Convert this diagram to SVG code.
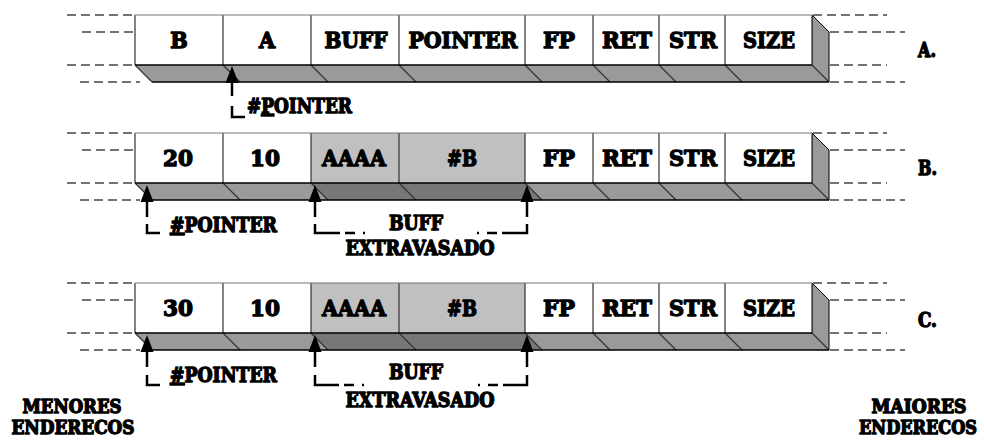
<svg xmlns="http://www.w3.org/2000/svg" xmlns:xlink="http://www.w3.org/1999/xlink" width="984" height="441" viewBox="0 0 984 441">
<style>
.t{font-family:"DejaVu Serif","Liberation Serif",serif;font-weight:bold;font-stretch:condensed;fill:#000;stroke:#000;stroke-width:1.3;stroke-linejoin:round;text-anchor:middle}
.c{font-size:23px}
.s{font-size:20px}
.e{font-size:19px}
.w{fill:#fff}
.g{fill:#c0c0c0}
.sh{fill:#9a9a9a}
.dk{fill:#777}
.v{stroke:#333;stroke-width:1.2;fill:none}
.top{stroke:#777;stroke-width:1.2}
.bot{stroke:#000;stroke-width:1.6}
.dl{stroke:#444;stroke-width:1.4;stroke-dasharray:9 5;fill:none}
.cn{stroke:#000;stroke-width:2.5;fill:none}
</style>
<defs>
<path id="ah" d="M0,0 L6.5,17 L-6.5,17 Z" fill="#000"/>
<g id="guides">
<path class="dl" d="M67,0 H135 M82,17 H135 M67,50 H135 M80,67 H140 M813,0 H887 M830,17 H905 M830,50 H887 M830,67 H905"/>
</g>
</defs>

<!-- Row A -->
<g id="rowA" transform="translate(0,15)">
<use xlink:href="#guides"/>
<polygon class="sh" points="135,50 812,50 829,67 152,67"/>
<polygon class="sh" points="812,0 829,17 829,67 812,50" stroke="#000" stroke-width="1"/>
<g id="A-B"><rect class="w" x="135" y="0" width="88" height="50"/><text class="t c" x="179" y="33">B</text></g>
<g id="A-A"><rect class="w" x="223" y="0" width="88" height="50"/><text class="t c" x="267" y="33">A</text></g>
<g id="A-BUFF"><rect class="w" x="311" y="0" width="88" height="50"/><text class="t c" x="356" y="33" textLength="63" lengthAdjust="spacingAndGlyphs">BUFF</text></g>
<g id="A-POINTER"><rect class="w" x="399" y="0" width="126" height="50"/><text class="t c" x="463" y="33" textLength="109" lengthAdjust="spacingAndGlyphs">POINTER</text></g>
<g id="A-FP"><rect class="w" x="525" y="0" width="68" height="50"/><text class="t c" x="559" y="33" textLength="32" lengthAdjust="spacingAndGlyphs">FP</text></g>
<g id="A-RET"><rect class="w" x="593" y="0" width="66" height="50"/><text class="t c" x="627" y="33" textLength="50" lengthAdjust="spacingAndGlyphs">RET</text></g>
<g id="A-STR"><rect class="w" x="659" y="0" width="66" height="50"/><text class="t c" x="693" y="33" textLength="48" lengthAdjust="spacingAndGlyphs">STR</text></g>
<g id="A-SIZE"><rect class="w" x="725" y="0" width="87" height="50"/><text class="t c" x="769" y="33" textLength="52" lengthAdjust="spacingAndGlyphs">SIZE</text></g>
<path class="v" d="M135,0 V50 M223,0 V50 M311,0 V50 M399,0 V50 M525,0 V50 M593,0 V50 M659,0 V50 M725,0 V50 M812,0 V50"/>
<path class="v" d="M135,50 L152,67 M223,50 L240,67 M311,50 L328,67 M399,50 L416,67 M525,50 L542,67 M593,50 L610,67 M659,50 L676,67 M725,50 L742,67 M812,50 L829,67"/>
<path class="top" d="M135,0 H812"/>
<path class="bot" d="M135,50 H812 M152,67 H829"/>
<text class="t s" x="918" y="42" style="text-anchor:start" textLength="18" lengthAdjust="spacingAndGlyphs">A.</text>
</g>

<!-- Row B -->
<g id="rowB" transform="translate(0,133)">
<use xlink:href="#guides"/>
<polygon class="sh" points="135,50 812,50 829,67 152,67"/>
<polygon class="dk" points="311,50 525,50 542,67 328,67"/>
<polygon class="sh" points="812,0 829,17 829,67 812,50" stroke="#000" stroke-width="1"/>
<g id="B-20"><rect class="w" x="135" y="0" width="88" height="50"/><text class="t c" x="178" y="33" textLength="30" lengthAdjust="spacingAndGlyphs">20</text></g>
<g id="B-10"><rect class="w" x="223" y="0" width="88" height="50"/><text class="t c" x="265" y="33" textLength="30" lengthAdjust="spacingAndGlyphs">10</text></g>
<g id="B-AAAA"><rect class="g" x="311" y="0" width="88" height="50"/><text class="t c" x="354" y="33" textLength="64" lengthAdjust="spacingAndGlyphs">AAAA</text></g>
<g id="B-HB"><rect class="g" x="399" y="0" width="126" height="50"/><text class="t c" x="462" y="33" textLength="30" lengthAdjust="spacingAndGlyphs">#B</text></g>
<g id="B-FP"><rect class="w" x="525" y="0" width="68" height="50"/><text class="t c" x="559" y="33" textLength="32" lengthAdjust="spacingAndGlyphs">FP</text></g>
<g id="B-RET"><rect class="w" x="593" y="0" width="66" height="50"/><text class="t c" x="627" y="33" textLength="50" lengthAdjust="spacingAndGlyphs">RET</text></g>
<g id="B-STR"><rect class="w" x="659" y="0" width="66" height="50"/><text class="t c" x="693" y="33" textLength="48" lengthAdjust="spacingAndGlyphs">STR</text></g>
<g id="B-SIZE"><rect class="w" x="725" y="0" width="87" height="50"/><text class="t c" x="769" y="33" textLength="52" lengthAdjust="spacingAndGlyphs">SIZE</text></g>
<path class="v" d="M135,0 V50 M223,0 V50 M311,0 V50 M399,0 V50 M525,0 V50 M593,0 V50 M659,0 V50 M725,0 V50 M812,0 V50"/>
<path class="v" d="M135,50 L152,67 M223,50 L240,67 M311,50 L328,67 M399,50 L416,67 M525,50 L542,67 M593,50 L610,67 M659,50 L676,67 M725,50 L742,67 M812,50 L829,67"/>
<path class="top" d="M135,0 H812"/>
<path class="bot" d="M135,50 H812 M152,67 H829"/>
<text class="t s" x="918" y="42" style="text-anchor:start" textLength="19" lengthAdjust="spacingAndGlyphs">B.</text>
</g>

<!-- Row C -->
<g id="rowC" transform="translate(0,283)">
<use xlink:href="#guides"/>
<polygon class="sh" points="135,50 812,50 829,67 152,67"/>
<polygon class="dk" points="311,50 525,50 542,67 328,67"/>
<polygon class="sh" points="812,0 829,17 829,67 812,50" stroke="#000" stroke-width="1"/>
<g id="C-30"><rect class="w" x="135" y="0" width="88" height="50"/><text class="t c" x="178" y="33" textLength="30" lengthAdjust="spacingAndGlyphs">30</text></g>
<g id="C-10"><rect class="w" x="223" y="0" width="88" height="50"/><text class="t c" x="265" y="33" textLength="30" lengthAdjust="spacingAndGlyphs">10</text></g>
<g id="C-AAAA"><rect class="g" x="311" y="0" width="88" height="50"/><text class="t c" x="354" y="33" textLength="64" lengthAdjust="spacingAndGlyphs">AAAA</text></g>
<g id="C-HB"><rect class="g" x="399" y="0" width="126" height="50"/><text class="t c" x="462" y="33" textLength="30" lengthAdjust="spacingAndGlyphs">#B</text></g>
<g id="C-FP"><rect class="w" x="525" y="0" width="68" height="50"/><text class="t c" x="559" y="33" textLength="32" lengthAdjust="spacingAndGlyphs">FP</text></g>
<g id="C-RET"><rect class="w" x="593" y="0" width="66" height="50"/><text class="t c" x="627" y="33" textLength="50" lengthAdjust="spacingAndGlyphs">RET</text></g>
<g id="C-STR"><rect class="w" x="659" y="0" width="66" height="50"/><text class="t c" x="693" y="33" textLength="48" lengthAdjust="spacingAndGlyphs">STR</text></g>
<g id="C-SIZE"><rect class="w" x="725" y="0" width="87" height="50"/><text class="t c" x="769" y="33" textLength="52" lengthAdjust="spacingAndGlyphs">SIZE</text></g>
<path class="v" d="M135,0 V50 M223,0 V50 M311,0 V50 M399,0 V50 M525,0 V50 M593,0 V50 M659,0 V50 M725,0 V50 M812,0 V50"/>
<path class="v" d="M135,50 L152,67 M223,50 L240,67 M311,50 L328,67 M399,50 L416,67 M525,50 L542,67 M593,50 L610,67 M659,50 L676,67 M725,50 L742,67 M812,50 L829,67"/>
<path class="top" d="M135,0 H812"/>
<path class="bot" d="M135,50 H812 M152,67 H829"/>
<text class="t s" x="918" y="44" style="text-anchor:start" textLength="19" lengthAdjust="spacingAndGlyphs">C.</text>
</g>

<!-- Connectors -->
<g id="connectors">
<use xlink:href="#ah" x="232" y="66"/>
<path class="cn" d="M232,83 V117 H245" stroke-dasharray="13 10 40"/>
<use xlink:href="#ah" x="147" y="185"/>
<path class="cn" d="M147,202 V233 H160" stroke-dasharray="15 7 60"/>
<use xlink:href="#ah" x="315" y="185"/>
<path class="cn" d="M315,202 V233 H368" stroke-dasharray="15 7 34 5 10 8 2 40"/>
<use xlink:href="#ah" x="527" y="185"/>
<path class="cn" d="M527,202 V233 H474" stroke-dasharray="15 7 34 5 10 8 2 40"/>
<use xlink:href="#ah" x="147" y="335"/>
<path class="cn" d="M147,352 V385 H160" stroke-dasharray="15 8 60"/>
<use xlink:href="#ah" x="315" y="335"/>
<path class="cn" d="M315,352 V385 H368" stroke-dasharray="15 8 34 5 10 8 2 40"/>
<use xlink:href="#ah" x="527" y="335"/>
<path class="cn" d="M527,352 V385 H474" stroke-dasharray="15 8 34 5 10 8 2 40"/>
</g>

<!-- Labels -->
<g id="labels">
<text class="t s" x="247" y="113" style="text-anchor:start" textLength="105" lengthAdjust="spacingAndGlyphs">#<tspan text-decoration="underline">P</tspan>OINTER</text>
<text class="t s" x="170" y="232" style="text-anchor:start" textLength="107" lengthAdjust="spacingAndGlyphs"><tspan text-decoration="underline">#</tspan>POINTER</text>
<text class="t s" x="416" y="230" textLength="54" lengthAdjust="spacingAndGlyphs">BUFF</text>
<text class="t s" x="420" y="255" textLength="149" lengthAdjust="spacingAndGlyphs">EXTRAVASADO</text>
<text class="t s" x="170" y="382" style="text-anchor:start" textLength="107" lengthAdjust="spacingAndGlyphs"><tspan text-decoration="underline">#</tspan>POINTER</text>
<text class="t s" x="416" y="379" textLength="54" lengthAdjust="spacingAndGlyphs">BUFF</text>
<text class="t s" x="420" y="407" textLength="149" lengthAdjust="spacingAndGlyphs">EXTRAVASADO</text>
<text class="t e" x="72" y="413" textLength="99" lengthAdjust="spacingAndGlyphs">MENORES</text>
<text class="t e" x="73" y="434" textLength="123" lengthAdjust="spacingAndGlyphs">ENDERECOS</text>
<text class="t e" x="919" y="413" textLength="95" lengthAdjust="spacingAndGlyphs">MAIORES</text>
<text class="t e" x="918" y="434" textLength="118" lengthAdjust="spacingAndGlyphs">ENDERECOS</text>
</g>
</svg>
